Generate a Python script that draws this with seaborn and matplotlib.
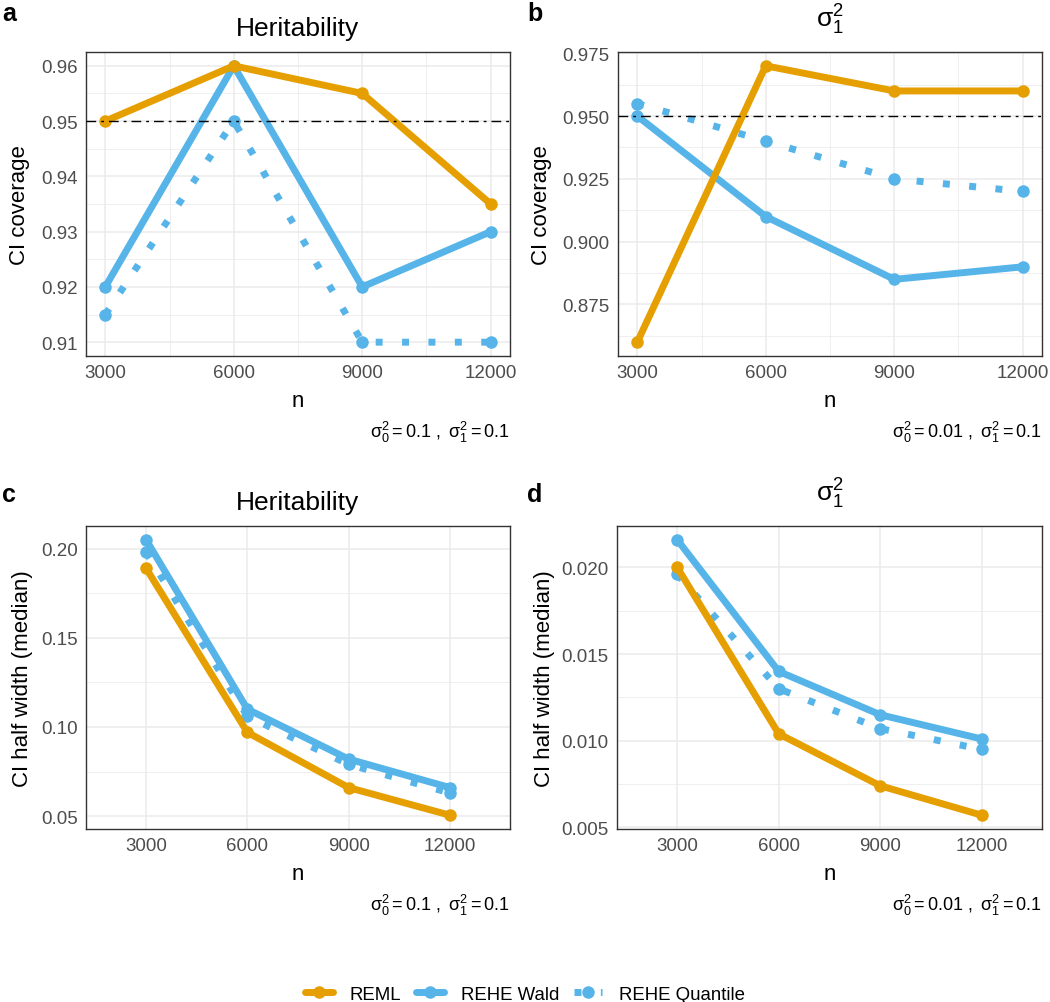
import pandas as pd
import seaborn as sns
import matplotlib.pyplot as plt
from matplotlib.ticker import FormatStrFormatter, MultipleLocator, FixedLocator

# sample sizes and methods
n_values = [3000, 6000, 9000, 12000]
methods = ["REML", "REHE Wald", "REHE Quantile"]

# a: heritability CI coverage
cov_h2_reml = [0.950, 0.960, 0.955, 0.935]
cov_h2_wald = [0.920, 0.960, 0.920, 0.930]
cov_h2_quant = [0.915, 0.950, 0.910, 0.910]

# b: sigma_1^2 CI coverage
cov_s1_reml = [0.860, 0.970, 0.960, 0.960]
cov_s1_wald = [0.950, 0.910, 0.885, 0.890]
cov_s1_quant = [0.955, 0.940, 0.925, 0.920]

# c: heritability CI half width (median)
hw_h2_reml = [0.189, 0.097, 0.066, 0.0505]
hw_h2_wald = [0.205, 0.110, 0.082, 0.066]
hw_h2_quant = [0.198, 0.106, 0.079, 0.063]

# d: sigma_1^2 CI half width (median)
hw_s1_reml = [0.0200, 0.0104, 0.0074, 0.0057]
hw_s1_wald = [0.0216, 0.0140, 0.0115, 0.0101]
hw_s1_quant = [0.0196, 0.0130, 0.0107, 0.0095]

titles = ["Heritability", r"$\sigma_1^2$", "Heritability", r"$\sigma_1^2$"]
letters = ["a", "b", "c", "d"]
ylabels = ["CI coverage", "CI coverage", "CI half width (median)", "CI half width (median)"]
captions = [r"$\sigma_0^2 = 0.1\ ,\ \sigma_1^2 = 0.1$",
            r"$\sigma_0^2 = 0.01\ ,\ \sigma_1^2 = 0.1$",
            r"$\sigma_0^2 = 0.1\ ,\ \sigma_1^2 = 0.1$",
            r"$\sigma_0^2 = 0.01\ ,\ \sigma_1^2 = 0.1$"]

panels = [
    (cov_h2_reml, cov_h2_wald, cov_h2_quant),
    (cov_s1_reml, cov_s1_wald, cov_s1_quant),
    (hw_h2_reml, hw_h2_wald, hw_h2_quant),
    (hw_s1_reml, hw_s1_wald, hw_s1_quant),
]


def long_df(reml, wald, quant):
    rows = []
    for m, vals in zip(methods, [reml, wald, quant]):
        for n, v in zip(n_values, vals):
            rows.append({"n": n, "value": v, "method": m})
    return pd.DataFrame(rows)


sns.set_style("white")
plt.rcParams['font.family'] = ['Liberation Sans', 'DejaVu Sans']
plt.rcParams['text.color'] = 'black'
plt.rcParams['axes.labelcolor'] = 'black'
plt.rcParams['mathtext.fontset'] = 'custom'
plt.rcParams['mathtext.rm'] = 'Liberation Sans'
plt.rcParams['mathtext.it'] = 'Liberation Sans:italic'
plt.rcParams['mathtext.default'] = 'regular'

palette = {"REML": "#E69F00", "REHE Wald": "#56B4E9", "REHE Quantile": "#56B4E9"}
dashes = {"REML": "", "REHE Wald": "", "REHE Quantile": (1, 2.8)}
markers = {"REML": "o", "REHE Wald": "o", "REHE Quantile": "o"}

W, H = 1050, 1003
fig = plt.figure(figsize=(W / 100, H / 100), dpi=100)

# axes boxes in pixels: left, top, right, bottom
boxes = [(86, 53, 510, 357), (618, 53, 1042, 357),
         (86, 527, 510, 830), (617, 527, 1042, 830)]
letter_pos = [(2, 21), (527, 21), (2, 502), (527, 502)]
ylabel_x = [-0.132, -0.156, -0.125, -0.146]
title_pad = [12, 18, 12, 18]
ytick_fmt = ["%.2f", "%.3f", "%.2f", "%.3f"]
ymajor = [0.01, 0.025, 0.05, 0.005]

handles, labels = None, None
for i, (vals, box) in enumerate(zip(panels, boxes)):
    l, t, r, b = box
    ax = fig.add_axes([l / W, 1 - b / H, (r - l) / W, (b - t) / H])
    df = long_df(*vals)
    sns.lineplot(data=df, x="n", y="value", hue="method", style="method",
                 hue_order=methods[::-1], style_order=methods[::-1],
                 palette=palette, dashes=dashes, markers=markers,
                 linewidth=5, markersize=9, markeredgewidth=0,
                 legend=(i == 0), ax=ax, zorder=2)
    if i == 0:
        h, lab = ax.get_legend_handles_labels()
        ax.get_legend().remove()
        order = [lab.index(m) for m in methods]
        handles = [h[k] for k in order]
        labels = [lab[k] for k in order]

    if i < 2:
        ax.axhline(0.95, color="black", lw=1.0, ls=(0, (7, 3.6, 2, 3.6)), zorder=3)

    allv = [v for s in vals for v in s]
    lo, hi = min(allv), max(allv)
    pad = 0.05 * (hi - lo)
    ax.set_ylim(lo - pad, hi + pad)
    if i < 2:
        ax.set_xlim(3000 - 450, 12000 + 450)
        ax.xaxis.set_minor_locator(FixedLocator([4500, 7500, 10500]))
    else:
        ax.set_xlim(1220, 13780)
    ax.set_xticks(n_values)
    ax.yaxis.set_major_locator(MultipleLocator(ymajor[i]))
    ax.yaxis.set_minor_locator(MultipleLocator(ymajor[i] / 2))
    ax.yaxis.set_major_formatter(FormatStrFormatter(ytick_fmt[i]))

    ax.grid(True, which="major", color="#EBEBEB", lw=1.1, zorder=0)
    ax.grid(True, which="minor", color="#EBEBEB", lw=0.55, zorder=0)
    ax.set_axisbelow(True)
    for sp in ax.spines.values():
        sp.set_color("#333333")
        sp.set_linewidth(1.0)
    ax.tick_params(which="major", length=3, width=0.8, color="#333333",
                   labelsize=13.5, labelcolor="#4D4D4D", pad=3)
    ax.tick_params(which="minor", length=0)

    ax.set_xlabel("n", fontsize=16, va="baseline", color="black")
    ax.xaxis.set_label_coords(0.5, -50 / (b - t))
    ax.set_ylabel(ylabels[i], fontsize=16, color="black")
    ax.yaxis.set_label_coords(ylabel_x[i], 0.5)
    ax.set_title(titles[i], fontsize=19, pad=title_pad[i], color="black")

    ax.text(1.0, -81 / (b - t), captions[i], transform=ax.transAxes,
            ha="right", va="baseline", fontsize=13, color="black")

    lx, ly = letter_pos[i]
    fig.text(lx / W, 1 - ly / H, letters[i], fontsize=18, fontweight="bold",
             ha="left", va="baseline", color="black")

fig.legend(handles, labels, loc="center", bbox_to_anchor=(0.5, 1 - 995 / H),
           ncol=3, frameon=False, fontsize=13.4, handlelength=1.5,
           handletextpad=0.9, columnspacing=0.8, labelcolor="black")

fig.savefig("out.png", dpi=100)
